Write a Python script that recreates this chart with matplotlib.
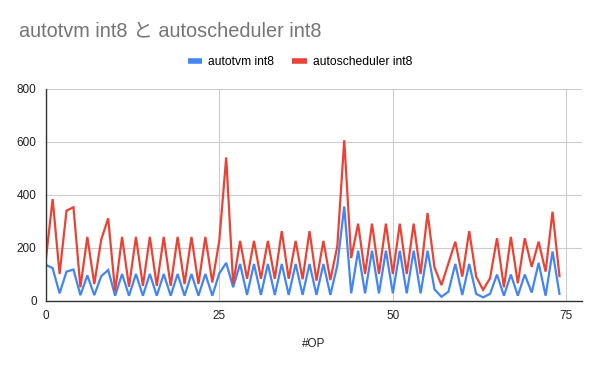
import matplotlib
matplotlib.use("Agg")
import matplotlib.pyplot as plt
from matplotlib.lines import Line2D

plt.rcParams['font.family'] = ['Liberation Sans', 'Noto Sans CJK JP', 'DejaVu Sans']

title = "autotvm int8 と autoscheduler int8"
series_names = ["autotvm int8", "autoscheduler int8"]
colors = ["#4285F4", "#EA4335"]
x_label = "#OP"
x_ticks = [0, 25, 50, 75]
y_ticks = [0, 200, 400, 600, 800]

autotvm = [135, 122, 27, 109, 117, 20, 95, 20, 92, 115,
           18, 100, 18, 100, 18, 100, 18, 100, 18, 100,
           18, 100, 18, 100, 18, 102, 142, 50, 138, 21,
           138, 21, 138, 21, 138, 21, 138, 21, 138, 21,
           138, 21, 132, 355, 27, 188, 27, 188, 27, 188,
           27, 188, 27, 188, 27, 188, 42, 14, 33, 138,
           21, 138, 25, 12, 25, 98, 18, 98, 18, 98,
           30, 142, 18, 185, 25]
autoscheduler = [150, 383, 100, 339, 352, 50, 240, 62, 230, 310,
                 35, 240, 52, 240, 55, 240, 55, 240, 55, 240,
                 62, 240, 62, 240, 68, 225, 540, 62, 225, 82,
                 225, 82, 225, 82, 262, 82, 225, 80, 262, 75,
                 225, 77, 205, 605, 160, 290, 100, 290, 100, 290,
                 100, 290, 100, 290, 100, 330, 125, 58, 140, 222,
                 90, 262, 90, 40, 84, 235, 50, 240, 65, 235,
                 127, 222, 109, 335, 92]

xs = list(range(len(autotvm)))

fig = plt.figure(figsize=(6, 3.71), dpi=100)
ax = fig.add_axes([45.7/600, 1-300.5/371, (581.7-45.7)/600, (300.5-88.5)/371])

ax.plot(xs, autotvm, color=colors[0], lw=1.6, solid_joinstyle='miter', zorder=3)
ax.plot(xs, autoscheduler, color=colors[1], lw=1.6, solid_joinstyle='miter', zorder=3)

ax.set_xlim(0, 77.2)
ax.set_ylim(0, 800)
ax.set_xticks(x_ticks)
ax.set_yticks(y_ticks)
ax.grid(True, color="#cccccc", lw=0.8)
ax.set_axisbelow(True)
for s in ['top', 'right']:
    ax.spines[s].set_visible(False)
for s in ['left', 'bottom']:
    ax.spines[s].set_color('#333333')
    ax.spines[s].set_linewidth(1.0)
    ax.spines[s].set_zorder(4)
ax.tick_params(length=0, labelsize=8.5, labelcolor='#222222', pad=6.5)

ax.set_xlabel(x_label, fontsize=8.5, color='#222222', va='center')
ax.xaxis.set_label_coords(0.5, -(344-300.5)/212)

fig.text(19/600, 1-37/371, title, fontsize=14.3, color='#757575', ha='left', va='baseline')

handles = [Line2D([], [], color=c, lw=4, solid_capstyle='butt') for c in colors]
fig.legend(handles, series_names, loc='center', bbox_to_anchor=(0.5, 1-62/371),
           ncol=2, frameon=False, fontsize=8.7, handlelength=1.2, handletextpad=0.5,
           columnspacing=1.5)

fig.savefig("out.png", dpi=100)
